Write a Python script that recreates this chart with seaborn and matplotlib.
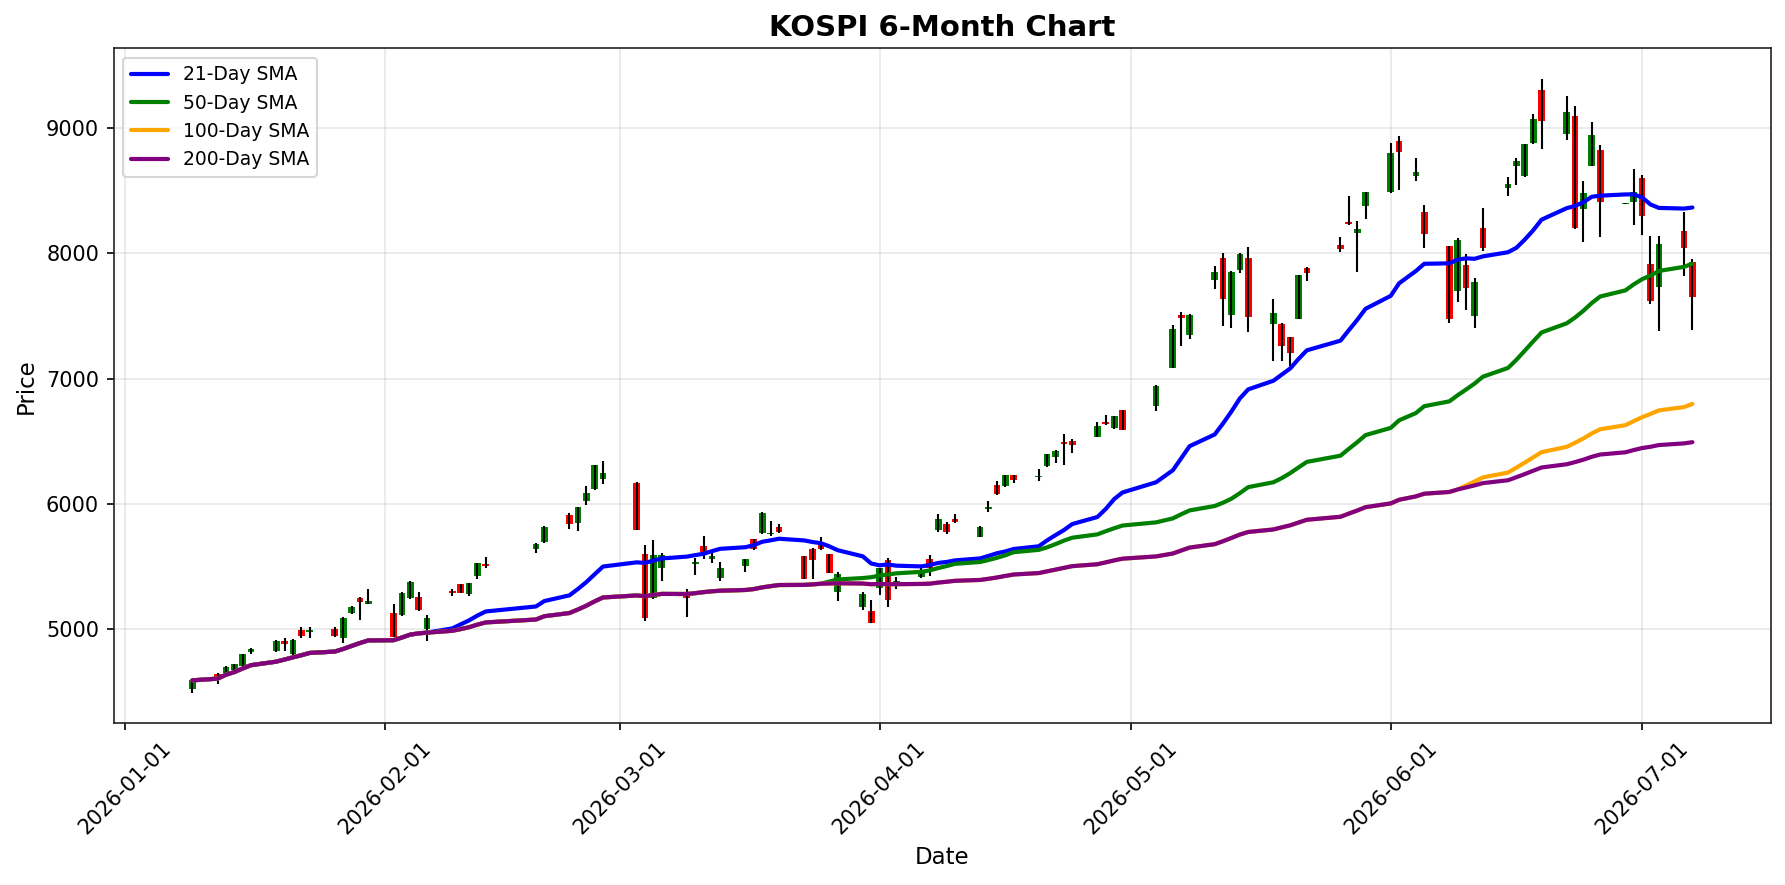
import matplotlib
matplotlib.use("Agg")
import matplotlib.pyplot as plt
import matplotlib.dates as mdates
import seaborn as sns
import pandas as pd
import numpy as np

dates = [
    "2026-01-09", "2026-01-12", "2026-01-13", "2026-01-14", "2026-01-15", "2026-01-16",
    "2026-01-19", "2026-01-20", "2026-01-21", "2026-01-22", "2026-01-23",
    "2026-01-26", "2026-01-27", "2026-01-28", "2026-01-29", "2026-01-30",
    "2026-02-02", "2026-02-03", "2026-02-04", "2026-02-05", "2026-02-06",
    "2026-02-09", "2026-02-10", "2026-02-11", "2026-02-12", "2026-02-13",
    "2026-02-19", "2026-02-20",
    "2026-02-23", "2026-02-24", "2026-02-25", "2026-02-26", "2026-02-27",
    "2026-03-03", "2026-03-04", "2026-03-05", "2026-03-06",
    "2026-03-09", "2026-03-10", "2026-03-11", "2026-03-12", "2026-03-13",
    "2026-03-16", "2026-03-17", "2026-03-18", "2026-03-19", "2026-03-20",
    "2026-03-23", "2026-03-24", "2026-03-25", "2026-03-26", "2026-03-27",
    "2026-03-30", "2026-03-31", "2026-04-01", "2026-04-02", "2026-04-03",
    "2026-04-06", "2026-04-07", "2026-04-08", "2026-04-09", "2026-04-10",
    "2026-04-13", "2026-04-14", "2026-04-15", "2026-04-16", "2026-04-17",
    "2026-04-20", "2026-04-21", "2026-04-22", "2026-04-23", "2026-04-24",
    "2026-04-27", "2026-04-28", "2026-04-29", "2026-04-30",
    "2026-05-04", "2026-05-06", "2026-05-07", "2026-05-08",
    "2026-05-11", "2026-05-12", "2026-05-13", "2026-05-14", "2026-05-15",
    "2026-05-18", "2026-05-19", "2026-05-20", "2026-05-21", "2026-05-22",
    "2026-05-26", "2026-05-27", "2026-05-28", "2026-05-29",
    "2026-06-01", "2026-06-02", "2026-06-04", "2026-06-05",
    "2026-06-08", "2026-06-09", "2026-06-10", "2026-06-11", "2026-06-12",
    "2026-06-15", "2026-06-16", "2026-06-17", "2026-06-18", "2026-06-19",
    "2026-06-22", "2026-06-23", "2026-06-24", "2026-06-25", "2026-06-26",
    "2026-06-29", "2026-06-30", "2026-07-01", "2026-07-02", "2026-07-03",
    "2026-07-06", "2026-07-07",
]

opens = [
    4520, 4643, 4653, 4677, 4707, 4815,
    4823, 4908, 4799, 4996, 4975,
    5004, 4927, 5132, 5251, 5203,
    5132, 5110, 5251, 5259, 5004,
    5307, 5357, 5283, 5421, 5522,
    5636, 5692,
    5911, 5844, 6022, 6115, 6198,
    6168, 5600, 5249, 5485,
    5291, 5517, 5666, 5557, 5405,
    5501, 5719, 5764, 5759, 5817,
    5584, 5642, 5676, 5600, 5296,
    5179, 5145, 5329, 5554, 5371,
    5413, 5562, 5793, 5836, 5879,
    5732, 5958, 6152, 6144, 6230,
    6211, 6301, 6378, 6493, 6503,
    6533, 6655, 6607, 6748,
    6777, 7088, 7508, 7351,
    7788, 7963, 7510, 7869, 7963,
    7438, 7436, 7332, 7478, 7881,
    8069, 8249, 8164, 8379,
    8486, 8895, 8618, 8327,
    8054, 7697, 7906, 7502, 8200,
    8523, 8694, 8616, 8880, 9305,
    8954, 9095, 8356, 8698, 8824,
    8393, 8412, 8600, 7912, 7734,
    8175, 7930,
]

highs = [
    4600, 4653, 4705, 4725, 4805, 4852,
    4915, 4932, 4918, 5020, 5020,
    5020, 5095, 5182, 5255, 5323,
    5198, 5295, 5382, 5299, 5116,
    5323, 5362, 5371, 5532, 5578,
    5684, 5820,
    5929, 5977, 6142, 6312, 6341,
    6172, 5671, 5714, 5610,
    5323, 5568, 5746, 5610, 5538,
    5562, 5722, 5934, 5865, 5836,
    5588, 5645, 5738, 5603, 5456,
    5297, 5233, 5488, 5570, 5419,
    5488, 5594, 5919, 5855, 5919,
    5825, 6022, 6184, 6233, 6233,
    6280, 6400, 6426, 6557, 6517,
    6652, 6708, 6705, 6752,
    6945, 7427, 7532, 7512,
    7899, 8002, 7859, 7998, 8050,
    7635, 7444, 7335, 7830, 7891,
    8128, 8460, 8255, 8490,
    8880, 8935, 8758, 8383,
    8058, 8122, 7992, 7803, 8359,
    8607, 8760, 8874, 9110, 9390,
    9254, 9175, 8574, 9043, 8862,
    8399, 8672, 8624, 8136, 8136,
    8327, 7955,
]

lows = [
    4494, 4565, 4645, 4670, 4700, 4799,
    4820, 4823, 4795, 4932, 4927,
    4940, 4887, 5125, 5070, 5198,
    4938, 5105, 5245, 5142, 4903,
    5262, 5287, 5262, 5397, 5485,
    5612, 5690,
    5799, 5783, 5990, 6110, 6155,
    5788, 5065, 5245, 5381,
    5094, 5429, 5557, 5525, 5387,
    5453, 5632, 5760, 5743, 5764,
    5398, 5400, 5632, 5449, 5225,
    5155, 5047, 5270, 5177, 5321,
    5408, 5424, 5775, 5756, 5850,
    5732, 5939, 6067, 6131, 6163,
    6179, 6298, 6325, 6314, 6405,
    6530, 6630, 6600, 6590,
    6745, 7085, 7263, 7319,
    7718, 7422, 7407, 7845, 7375,
    7141, 7141, 7099, 7475, 7781,
    8013, 8228, 7848, 8276,
    8480, 8507, 8579, 8043,
    7442, 7609, 7545, 7402, 8014,
    8455, 8547, 8612, 8875, 8834,
    8906, 8195, 8088, 8695, 8133,
    8392, 8228, 8148, 7596, 7383,
    7821, 7391,
]

closes = [
    4592, 4619, 4699, 4722, 4802, 4845,
    4908, 4879, 4914, 4943, 4994,
    4943, 5092, 5179, 5214, 5227,
    4940, 5291, 5379, 5155, 5092,
    5291, 5291, 5365, 5530, 5501,
    5682, 5817,
    5836, 5974, 6089, 6309, 6248,
    5791, 5089, 5592, 5592,
    5249, 5538, 5616, 5584, 5490,
    5557, 5636, 5931, 5769, 5772,
    5400, 5549, 5636, 5451, 5440,
    5281, 5049, 5485, 5233, 5387,
    5472, 5488, 5881, 5775, 5852,
    5817, 5977, 6080, 6230, 6187,
    6224, 6397, 6423, 6477, 6466,
    6620, 6636, 6700, 6593,
    6942, 7396, 7486, 7508,
    7849, 7638, 7851, 7995, 7489,
    7524, 7263, 7207, 7827, 7845,
    8033, 8231, 8191, 8486,
    8800, 8805, 8646, 8157,
    7474, 8106, 7725, 7771, 8043,
    8550, 8735, 8871, 9070, 9052,
    9127, 8199, 8481, 8943, 8412,
    8398, 8486, 8300, 7620, 8073,
    8044, 7654,
]

sma_windows = [21, 50, 100, 200]
sma_labels = ["21-Day SMA", "50-Day SMA", "100-Day SMA", "200-Day SMA"]
sma_colors = ["blue", "green", "orange", "purple"]

sns.set_style("ticks")
plt.rcParams["font.family"] = ["DejaVu Sans"]
plt.rcParams["text.color"] = "black"
plt.rcParams["axes.labelcolor"] = "black"
plt.rcParams["xtick.color"] = "black"
plt.rcParams["ytick.color"] = "black"
plt.rcParams["axes.edgecolor"] = "#222222"

df = pd.DataFrame({
    "date": pd.to_datetime(dates),
    "open": opens,
    "high": highs,
    "low": lows,
    "close": closes,
})

fig, ax = plt.subplots(figsize=(11.9, 5.9), dpi=150)
fig.subplots_adjust(left=0.0637, right=0.9922, top=0.9454, bottom=0.1827)

up = df["close"] >= df["open"]
body_bottom = np.minimum(df["open"], df["close"])
body_height = (df["close"] - df["open"]).abs()
candle_colors = np.where(up, "green", "red")

ax.bar(df["date"], body_height, bottom=body_bottom, width=0.8,
       color=candle_colors, edgecolor="none", linewidth=0, zorder=2)
ax.vlines(df["date"], df["low"], df["high"], color="black", linewidth=1, zorder=3)

for w, lab, col in zip(sma_windows, sma_labels, sma_colors):
    sma = df["close"].rolling(window=w, min_periods=1).mean()
    sns.lineplot(x=df["date"], y=sma, ax=ax, color=col, linewidth=2,
                 label=lab, zorder=4)

ax.set_title("KOSPI 6-Month Chart", fontsize=14, fontweight="bold")
ax.set_xlabel("Date", fontsize=11)
ax.set_ylabel("Price", fontsize=11)
ax.legend(loc="upper left", fontsize=9)
ax.grid(True, alpha=0.3, color="#b0b0b0")
ax.xaxis.set_major_locator(mdates.MonthLocator())
ax.xaxis.set_major_formatter(mdates.DateFormatter("%Y-%m-%d"))
plt.setp(ax.get_xticklabels(), rotation=45)

fig.savefig("out.png", dpi=150)
